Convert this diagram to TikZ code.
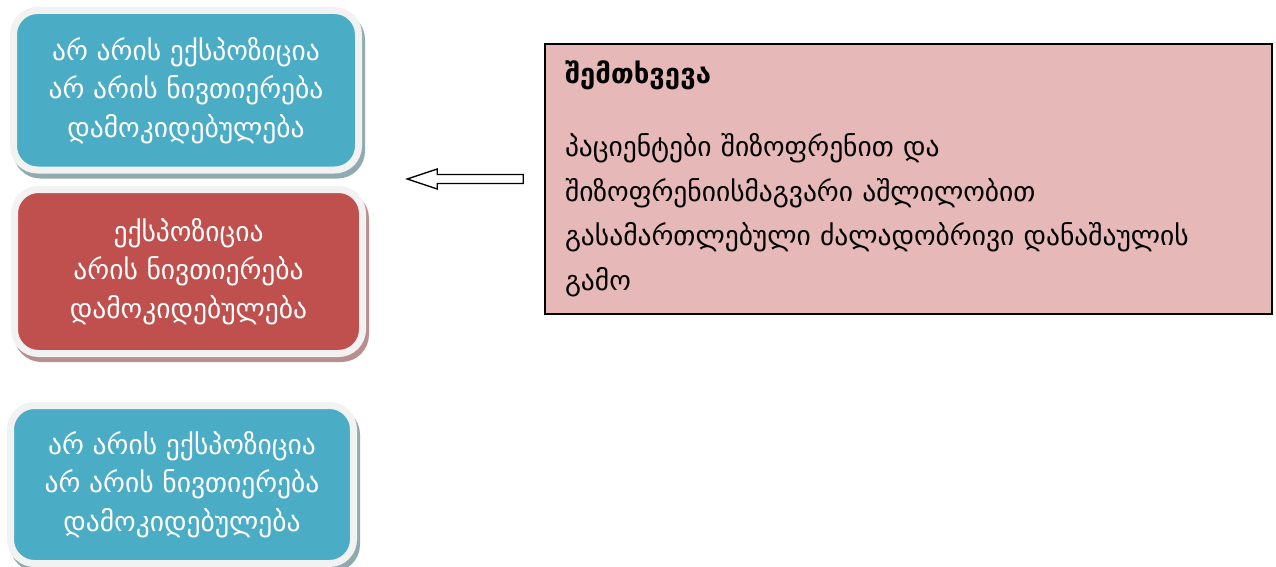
\documentclass[tikz,border=0pt]{standalone}
\usepackage{fontspec}
\newfontfamily\geo{DejaVu Sans}
\usetikzlibrary{shadows}
\definecolor{tealfill}{HTML}{4BACC6}
\definecolor{redfill}{HTML}{C0504D}
\definecolor{rimgray}{HTML}{F2F2F2}
\definecolor{tealshade}{HTML}{8FAAB0}
\definecolor{redshade}{HTML}{B98E8E}
\definecolor{casefill}{HTML}{E6B8B7}
\tikzset{
  panel/.style={draw=rimgray, line width=7pt, rounded corners=24pt,
    text=white, align=center, inner sep=0pt,
    font=\geo\fontsize{27.5}{38.5}\selectfont},
  tealpanel/.style={panel, fill=tealfill,
    drop shadow={shadow xshift=3pt, shadow yshift=-5pt, fill=tealshade,
      draw=tealshade, line width=7pt, opacity=1}},
  redpanel/.style={panel, fill=redfill,
    drop shadow={shadow xshift=3pt, shadow yshift=-5pt, fill=redshade,
      draw=redshade, line width=7pt, opacity=1}},
  casebox/.style={draw=black, line width=1.5pt, fill=casefill, align=left,
    text width=687pt, inner xsep=20pt, inner ysep=0pt, minimum height=270pt,
    font=\geo\fontsize{27.5}{44.5}\selectfont},
  hollow/.style={draw=black, line width=1.3pt, fill=white}
}
\begin{document}
\begin{tikzpicture}[x=1pt, y=-1pt]
  \useasboundingbox (0,0) rectangle (1276,567);
  % left column of panels
  \node[tealpanel, minimum width=345pt, minimum height=159.5pt] (top) at (186,90.25)
    {არ არის ექსპოზიცია\\არ არის ნივთიერება\\დამოკიდებულება};
  \node[redpanel, minimum width=348pt, minimum height=164pt] (mid) at (188.5,271.5)
    {ექსპოზიცია\\არის ნივთიერება\\დამოკიდებულება};
  \node[tealpanel, minimum width=343pt, minimum height=158pt] (low) at (182,484.5)
    {არ არის ექსპოზიცია\\არ არის ნივთიერება\\დამოკიდებულება};
  % case description
  \node[casebox] (case) at (908.5,179)
    {{\bfseries შემთხვევა}\\[28.5pt]
     პაციენტები შიზოფრენით და\\
     შიზოფრენიისმაგვარი აშლილობით\\
     გასამართლებული ძალადობრივი დანაშაულის\\
     გამო};
  % hollow arrow pointing from the case box to the left column
  \coordinate (tail) at ([xshift=-21pt]case.west);
  \draw[hollow] (tail) ++(0,4.5) -- ++(-86,0) -- ++(0,5.5) -- ++(-30,-10)
    -- ++(30,-10) -- ++(0,5.5) -- ++(86,0) -- cycle;
\end{tikzpicture}
\end{document}
